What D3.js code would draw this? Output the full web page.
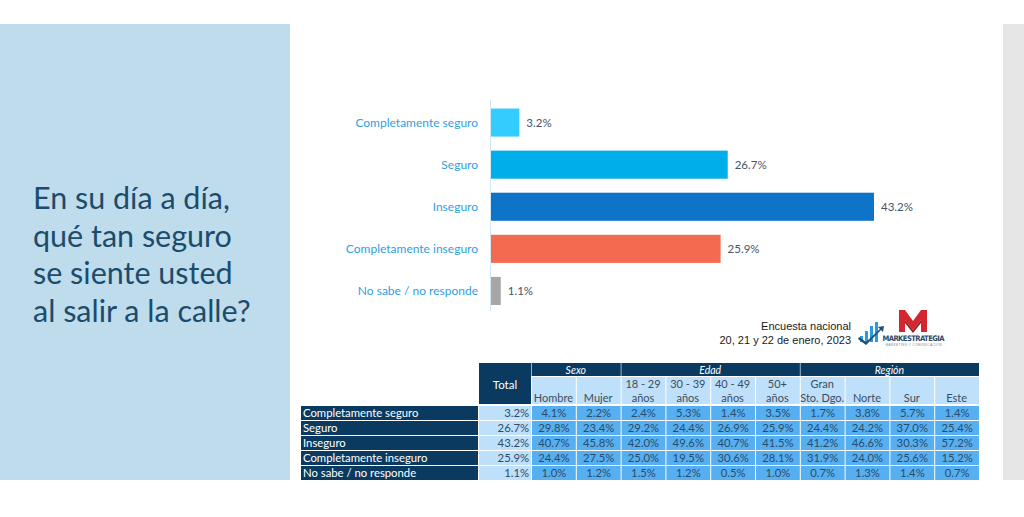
<!DOCTYPE html>
<html><head><meta charset="utf-8">
<script src="https://cdn.jsdelivr.net/npm/d3@7/dist/d3.min.js"></script>
<style>
html,body{margin:0;padding:0;background:#fff;}
svg{display:block;}
</style></head>
<body>
<svg id="chart" width="1024" height="517"></svg>
<script>
// ---------- DATA ----------
const titleLines = ["En su día a día,", "qué tan seguro", "se siente usted", "al salir a la calle?"];
const categories = ["Completamente seguro", "Seguro", "Inseguro", "Completamente inseguro", "No sabe / no responde"];
const totals = [3.2, 26.7, 43.2, 25.9, 1.1];
const barColors = ["#33ccff", "#00aee9", "#0e74c8", "#f46a50", "#a6a6a6"];
const sourceLines = ["Encuesta nacional", "20, 21 y 22 de enero, 2023"];

const groups = ["Sexo", "Edad", "Región"];
const groupSpans = [2, 4, 4];
const columns = ["Hombre", "Mujer", "18 - 29|años", "30 - 39|años", "40 - 49|años", "50+|años", "Gran|Sto. Dgo.", "Norte", "Sur", "Este"];
const hombre = [4.1, 29.8, 40.7, 24.4, 1.0];
const mujer = [2.2, 23.4, 45.8, 27.5, 1.2];
const edad18 = [2.4, 29.2, 42.0, 25.0, 1.5];
const edad30 = [5.3, 24.4, 49.6, 19.5, 1.2];
const edad40 = [1.4, 26.9, 40.7, 30.6, 0.5];
const edad50 = [3.5, 25.9, 41.5, 28.1, 1.0];
const granSD = [1.7, 24.4, 41.2, 31.9, 0.7];
const norte = [3.8, 24.2, 46.6, 24.0, 1.3];
const sur = [5.7, 37.0, 30.3, 25.6, 1.4];
const este = [1.4, 25.4, 57.2, 15.2, 0.7];
const tableCols = [hombre, mujer, edad18, edad30, edad40, edad50, granSD, norte, sur, este];

// ---------- DRAW ----------
const svg = d3.select("#chart");
const fmt = v => v.toFixed(1) + "%";
const calibri = "Lato, 'Open Sans', sans-serif";

// side panels
svg.append("rect").attr("x", 0).attr("y", 24).attr("width", 290).attr("height", 456).attr("fill", "#bedcec");
svg.append("rect").attr("x", 1003).attr("y", 24).attr("width", 21).attr("height", 456).attr("fill", "#e6e6e6");

// title
svg.append("text").attr("x", 33).attr("y", 209)
  .attr("font-family", calibri).attr("font-size", 30.5).attr("fill", "#1c4c6b")
  .selectAll("tspan").data(titleLines).join("tspan")
  .attr("x", 33).attr("dy", (d, i) => i === 0 ? 0 : 37.5).text(d => d);

// bar chart
const x = d3.scaleLinear().domain([0, 43.2]).range([490, 873]);
const y = d3.scaleBand().domain(categories).range([101.5, 312]).paddingInner(0.333).paddingOuter(0.167);

svg.append("line").attr("x1", 490.5).attr("x2", 490.5).attr("y1", 100).attr("y2", 311)
  .attr("stroke", "#d3e6f4").attr("stroke-width", 1);

svg.append("g").selectAll("rect").data(categories).join("rect")
  .attr("x", x(0) + 1).attr("y", d => y(d))
  .attr("width", (d, i) => x(totals[i]) - x(0))
  .attr("height", y.bandwidth())
  .attr("fill", (d, i) => barColors[i]);

svg.append("g").selectAll("text").data(categories).join("text")
  .attr("x", 478).attr("y", d => y(d) + y.bandwidth() / 2 + 4)
  .attr("text-anchor", "end").attr("font-family", calibri).attr("font-size", 12)
  .attr("fill", "#2f9fe2").text(d => d);

svg.append("g").selectAll("text").data(categories).join("text")
  .attr("x", (d, i) => x(totals[i]) + 8).attr("y", d => y(d) + y.bandwidth() / 2 + 4)
  .attr("font-family", calibri).attr("font-size", 11.5)
  .attr("fill", "#44546a").text((d, i) => fmt(totals[i]));

// source
svg.append("g").selectAll("text").data(sourceLines).join("text")
  .attr("x", 851).attr("y", (d, i) => 330 + i * 13.5)
  .attr("text-anchor", "end").attr("font-family", "'Liberation Sans', Arial, sans-serif")
  .attr("font-size", 11).attr("fill", "#1a1a1a").text(d => d);

// logo
const logo = svg.append("g");
[[860, 336, 3, 6], [865, 331, 3, 11], [870, 326, 3, 16], [875, 322, 3, 20]].forEach(b => {
  logo.append("rect").attr("x", b[0]).attr("y", b[1]).attr("width", b[2]).attr("height", b[3]).attr("fill", "#2d9ae0");
});
logo.append("path").attr("d", "M858,339 L866,345 L881,330 L883,332 L884,326 L878,327 L880,329 L866,342 L859,337 Z").attr("fill", "#1d4f7c");
logo.append("path").attr("d", "M899,310 L905,310 L913,321 L921,310 L927,310 L927,332 L921,332 L921,320 L913,330 L905,320 L905,332 L899,332 Z").attr("fill", "#d4262f");
logo.append("path").attr("d", "M905,320 L913,330 L921,320 L921,323 L913,333 L905,323 Z").attr("fill", "#9e1a20");
logo.append("text").attr("x", 913.5).attr("y", 341).attr("text-anchor", "middle")
  .attr("font-family", "'DejaVu Sans Condensed', 'Liberation Sans Narrow', sans-serif").attr("font-weight", "bold")
  .attr("font-size", 7.6).attr("fill", "#2c4863").attr("textLength", 62).text("MARKESTRATEGIA");
logo.append("text").attr("x", 913.5).attr("y", 346).attr("text-anchor", "middle")
  .attr("font-family", "'Liberation Sans', sans-serif").attr("font-size", 3.2).attr("fill", "#7a8a99")
  .attr("textLength", 56).text("MARKETING Y COMUNICACIÓN");

// table
const navy = "#0b3a60", light = "#bfe0fa", mid = "#55aff0", cellText = "#2d4b68";
const tx = d3.scaleBand().domain(d3.range(columns.length)).range([531, 979]);
const ty = d3.scaleBand().domain(categories).range([405, 480]);
const tbl = svg.append("g").attr("font-family", calibri);

// total header
tbl.append("rect").attr("x", 479).attr("y", 363).attr("width", 52).attr("height", 41).attr("fill", navy);
tbl.append("text").attr("x", 505).attr("y", 389).attr("text-anchor", "middle").attr("font-size", 11.5)
  .attr("fill", "#fff").text("Total");

// group header
tbl.append("rect").attr("x", 531).attr("y", 363).attr("width", 448).attr("height", 13).attr("fill", navy);
let start = 0;
groups.forEach((g, i) => {
  const x0 = tx(start), x1 = tx(start + groupSpans[i] - 1) + tx.bandwidth();
  tbl.append("line").attr("x1", x0 + 0.5).attr("x2", x0 + 0.5).attr("y1", 363).attr("y2", 376).attr("stroke", "#8fb3cf").attr("stroke-width", 1);
  tbl.append("text").attr("x", (x0 + x1) / 2).attr("y", 373.5).attr("text-anchor", "middle")
    .attr("font-size", 10.5).attr("font-style", "italic").attr("fill", "#fff").text(g);
  start += groupSpans[i];
});

// column headers
const colHead = tbl.append("g").selectAll("g").data(columns).join("g");
colHead.append("rect").attr("x", (d, i) => tx(i) + 1).attr("y", 377)
  .attr("width", tx.bandwidth() - 1).attr("height", 27).attr("fill", light);
colHead.each(function (d, i) {
  const parts = d.split("|");
  const g = d3.select(this);
  parts.forEach((p, j) => {
    g.append("text").attr("x", tx(i) + tx.bandwidth() / 2)
      .attr("y", parts.length === 2 ? 388 + j * 13.5 : 401.5)
      .attr("text-anchor", "middle").attr("font-size", 11).attr("fill", "#3a4d60").text(p);
  });
});

// rows
const rows = tbl.append("g").selectAll("g").data(categories).join("g");
rows.append("rect").attr("x", 301).attr("y", d => ty(d) + 1).attr("width", 177)
  .attr("height", ty.bandwidth() - 1).attr("fill", navy);
rows.append("text").attr("x", 303).attr("y", d => ty(d) + 12)
  .attr("font-size", 11.3).attr("fill", "#fff").text(d => d);
rows.append("rect").attr("x", 479).attr("y", d => ty(d) + 1).attr("width", 52)
  .attr("height", ty.bandwidth() - 1).attr("fill", light);
rows.append("text").attr("x", 529).attr("y", d => ty(d) + 12).attr("text-anchor", "end")
  .attr("font-size", 11.3).attr("fill", cellText).text((d, i) => fmt(totals[i]));

tableCols.forEach((vals, c) => {
  tbl.append("g").selectAll("rect").data(vals).join("rect")
    .attr("x", tx(c) + 1).attr("y", (v, r) => ty(categories[r]) + 1)
    .attr("width", tx.bandwidth() - 1).attr("height", ty.bandwidth() - 1).attr("fill", mid);
  tbl.append("g").selectAll("text").data(vals).join("text")
    .attr("x", tx(c) + tx.bandwidth() / 2 + 0.5).attr("y", (v, r) => ty(categories[r]) + 12)
    .attr("text-anchor", "middle").attr("font-size", 11.3).attr("fill", cellText).text(v => fmt(v));
});
</script>
</body></html>
